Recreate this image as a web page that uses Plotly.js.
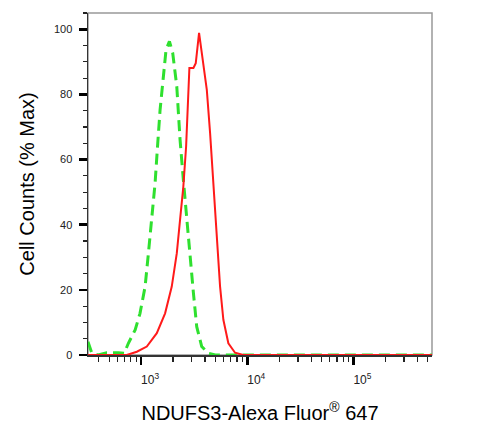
<!DOCTYPE html>
<html>
<head>
<meta charset="utf-8">
<script src="https://cdn.plot.ly/plotly-3.0.1.min.js"></script>
<style>
  html, body { margin: 0; padding: 0; background: #fff; }
  #flow-plot { width: 489px; height: 430px; }
</style>
</head>
<body>
<div id="flow-plot"></div>
<script>
// ── Data (fluorescence intensity, % of max) ──

const stainedX = [316, 733, 912, 1132, 1406, 1683, 1945, 2168, 2328, 2500, 2655, 2786,
                  2851, 3112, 3273, 3516, 3724, 4159, 4467, 4797, 5164, 5546, 5957,
                  6637, 7674, 9183, 549541];
const stainedY = [0, 0, 1.0, 2.6, 6.7, 12.8, 21, 31.2, 41.5, 51.7, 64, 78.4,
                  88.1, 88.1, 89.6, 98.9, 92.7, 81.4, 68.1, 51.7, 35.3, 21, 10.8,
                  3.6, 0.7, 0, 0];

const controlX = [316, 344, 394, 475, 611, 692, 759, 879, 977, 1091, 1172, 1259, 1355,
                  1435, 1510, 1622, 1718, 1849, 1986, 2168, 2328, 2500, 2692, 2891,
                  3112, 3342, 3724, 4305, 5012, 549541];
const controlY = [4.1, 0.5, 0, 0.7, 0.7, 0.5, 3.6, 7.7, 12.8, 21, 31.2, 41.5, 52.8,
                  65, 75.3, 85.5, 93.7, 96.3, 92.7, 82.5, 66.1, 53.8, 41.5, 29.2,
                  19, 8.7, 2.6, 0.5, 0, 0];

const xMajorVals = [1000, 10000, 100000];
const xMajorText = ['10<sup>3</sup>', '10<sup>4</sup>', '10<sup>5</sup>'];
const yMajorVals = [0, 20, 40, 60, 80, 100];
const yMajorText = ['0', '20', '40', '60', '80', '100'];

// minor log ticks: 2..9 in each decade
const xMinorVals = [];
for (const decade of [100, 1000, 10000, 100000]) {
    for (let m = 2; m <= 9; m++) xMinorVals.push(m * decade);
}

const FONT = 'Arial, "Liberation Sans", sans-serif';

const stainedTrace = {
    x: stainedX,
    y: stainedY,
    type: 'scatter',
    mode: 'lines',
    line: { color: '#ff1a1a', width: 2 },
    hoverinfo: 'skip'
};

const controlTrace = {
    x: controlX,
    y: controlY,
    type: 'scatter',
    mode: 'lines',
    line: { color: '#2fe02f', width: 3, dash: '11px,6px' },
    hoverinfo: 'skip'
};

const layout = {
    width: 489,
    height: 430,
    margin: { l: 88, r: 57, t: 13, b: 75 },
    paper_bgcolor: '#fff',
    plot_bgcolor: '#fff',
    showlegend: false,
    font: { family: FONT, color: '#000' },
    xaxis: {
        type: 'log',
        range: [2.5, 5.74],
        showgrid: false,
        zeroline: false,
        showline: true,
        linecolor: '#333',
        linewidth: 1.5,
        ticks: 'outside',
        ticklen: 8,
        tickwidth: 2.5,
        tickcolor: '#000',
        tickmode: 'array',
        tickvals: xMajorVals,
        ticktext: xMajorText,
        ticklabelshift: 9,
        ticklabelstandoff: 5,
        tickfont: { family: FONT, size: 12, color: '#222' },
        minor: {
            tickmode: 'array',
            tickvals: xMinorVals,
            ticks: 'outside',
            ticklen: 5,
            tickwidth: 1.2,
            tickcolor: '#222'
        },
        title: {
            text: 'NDUFS3-Alexa Fluor<sup>®</sup> 647',
            font: { family: FONT, size: 20, color: '#000' },
            standoff: 20
        }
    },
    yaxis: {
        range: [0, 105],
        showgrid: false,
        zeroline: false,
        showline: true,
        linecolor: '#333',
        linewidth: 1.5,
        ticks: 'outside',
        ticklen: 8,
        tickwidth: 2.5,
        tickcolor: '#000',
        tickmode: 'array',
        tickvals: yMajorVals,
        ticktext: yMajorText,
        ticklabelstandoff: 4,
        tickfont: { family: FONT, size: 11, color: '#222' },
        minor: {
            dtick: 5,
            ticks: 'outside',
            ticklen: 4,
            tickwidth: 1.2,
            tickcolor: '#222'
        },
        title: {
            text: 'Cell Counts (% Max)',
            font: { family: FONT, size: 20, color: '#000' },
            standoff: 14
        }
    },
    shapes: [{
        type: 'rect',
        xref: 'paper', yref: 'paper',
        x0: 0, x1: 1, y0: 0, y1: 1,
        line: { color: '#999', width: 1.5 },
        layer: 'below'
    }]
};

Plotly.newPlot('flow-plot', [controlTrace, stainedTrace], layout, { displayModeBar: false, staticPlot: true });
</script>
</body>
</html>
